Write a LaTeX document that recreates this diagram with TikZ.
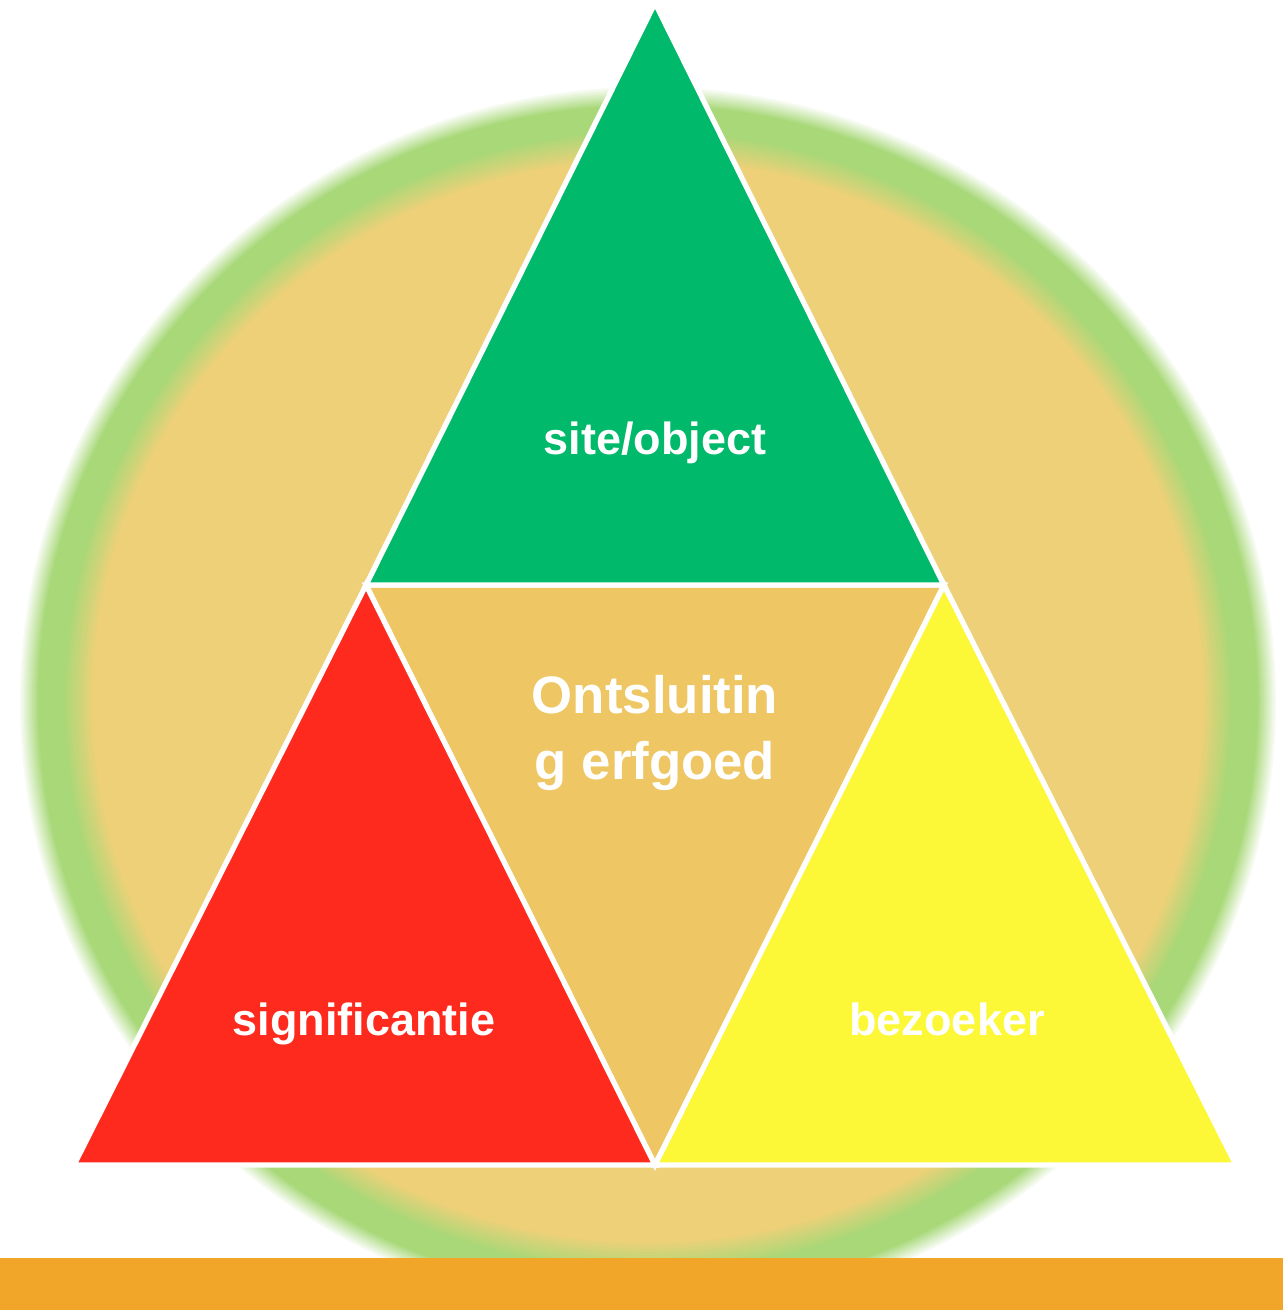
\documentclass[tikz,border=0pt]{standalone}
\usepackage{fontspec}
\setmainfont{Liberation Sans}
\usepackage{tikz}

\definecolor{ringgreen}{HTML}{A8D878}
\definecolor{discbeige}{HTML}{EDD078}
\definecolor{topgreen}{HTML}{00B96A}
\definecolor{sigred}{HTML}{FE2A1E}
\definecolor{visyellow}{HTML}{FCF838}
\definecolor{midbeige}{HTML}{EEC663}
\definecolor{barorange}{HTML}{F1A629}

\begin{document}
\begin{tikzpicture}[x=0.01cm, y=-0.01cm,
   tri_style/.style={draw=white, line width=1.5pt, line join=miter},
   label_style/.style={text=white, font=\fontsize{12.8}{15}\selectfont\bfseries, anchor=base},
   core_style/.style={text=white, font=\fontsize{15}{18.5}\selectfont\bfseries, align=center}]

    \useasboundingbox (0,0) rectangle (1283,1310);
    \fill[white] (0,0) rectangle (1283,1310);

    % blurred disc behind the triangles
    \coordinate (c) at (648,701);
    \foreach \k in {0,...,9}{
      \pgfmathsetmacro\p{10*(\k+1)}
      \fill[ringgreen!\p!white] (c) ellipse [x radius={628-2*\k}, y radius={614-2*\k}];
    }
    \foreach \k in {0,...,10}{
      \pgfmathsetmacro\p{10*\k}
      \fill[discbeige!\p!ringgreen] (c) ellipse [x radius={586-3*\k}, y radius={572-3*\k}];
    }

    \fill[barorange] (0,1258) rectangle (1283,1310);

    % corners
    \coordinate (apex) at (655,3);
    \coordinate (ml) at (366,585);
    \coordinate (mr) at (944,585);
    \coordinate (bl) at (74,1165);
    \coordinate (bm) at (655,1165);
    \coordinate (br) at (1236,1165);

    \filldraw[tri_style, fill=midbeige] (ml) -- (mr) -- (bm) -- cycle;
    \filldraw[tri_style, fill=topgreen] (apex) -- (mr) -- (ml) -- cycle;
    \filldraw[tri_style, fill=sigred] (ml) -- (bm) -- (bl) -- cycle;
    \filldraw[tri_style, fill=visyellow] (mr) -- (br) -- (bm) -- cycle;

    \node[label_style] (site) at (655,455) {site/object};
    \node[label_style] (sig) at (364,1035) {significantie};
    \node[label_style] (bez) at (947,1035) {bezoeker};
    \node[core_style] (core) at (655,733) {Ontsluitin\\g erfgoed};
\end{tikzpicture}
\end{document}
